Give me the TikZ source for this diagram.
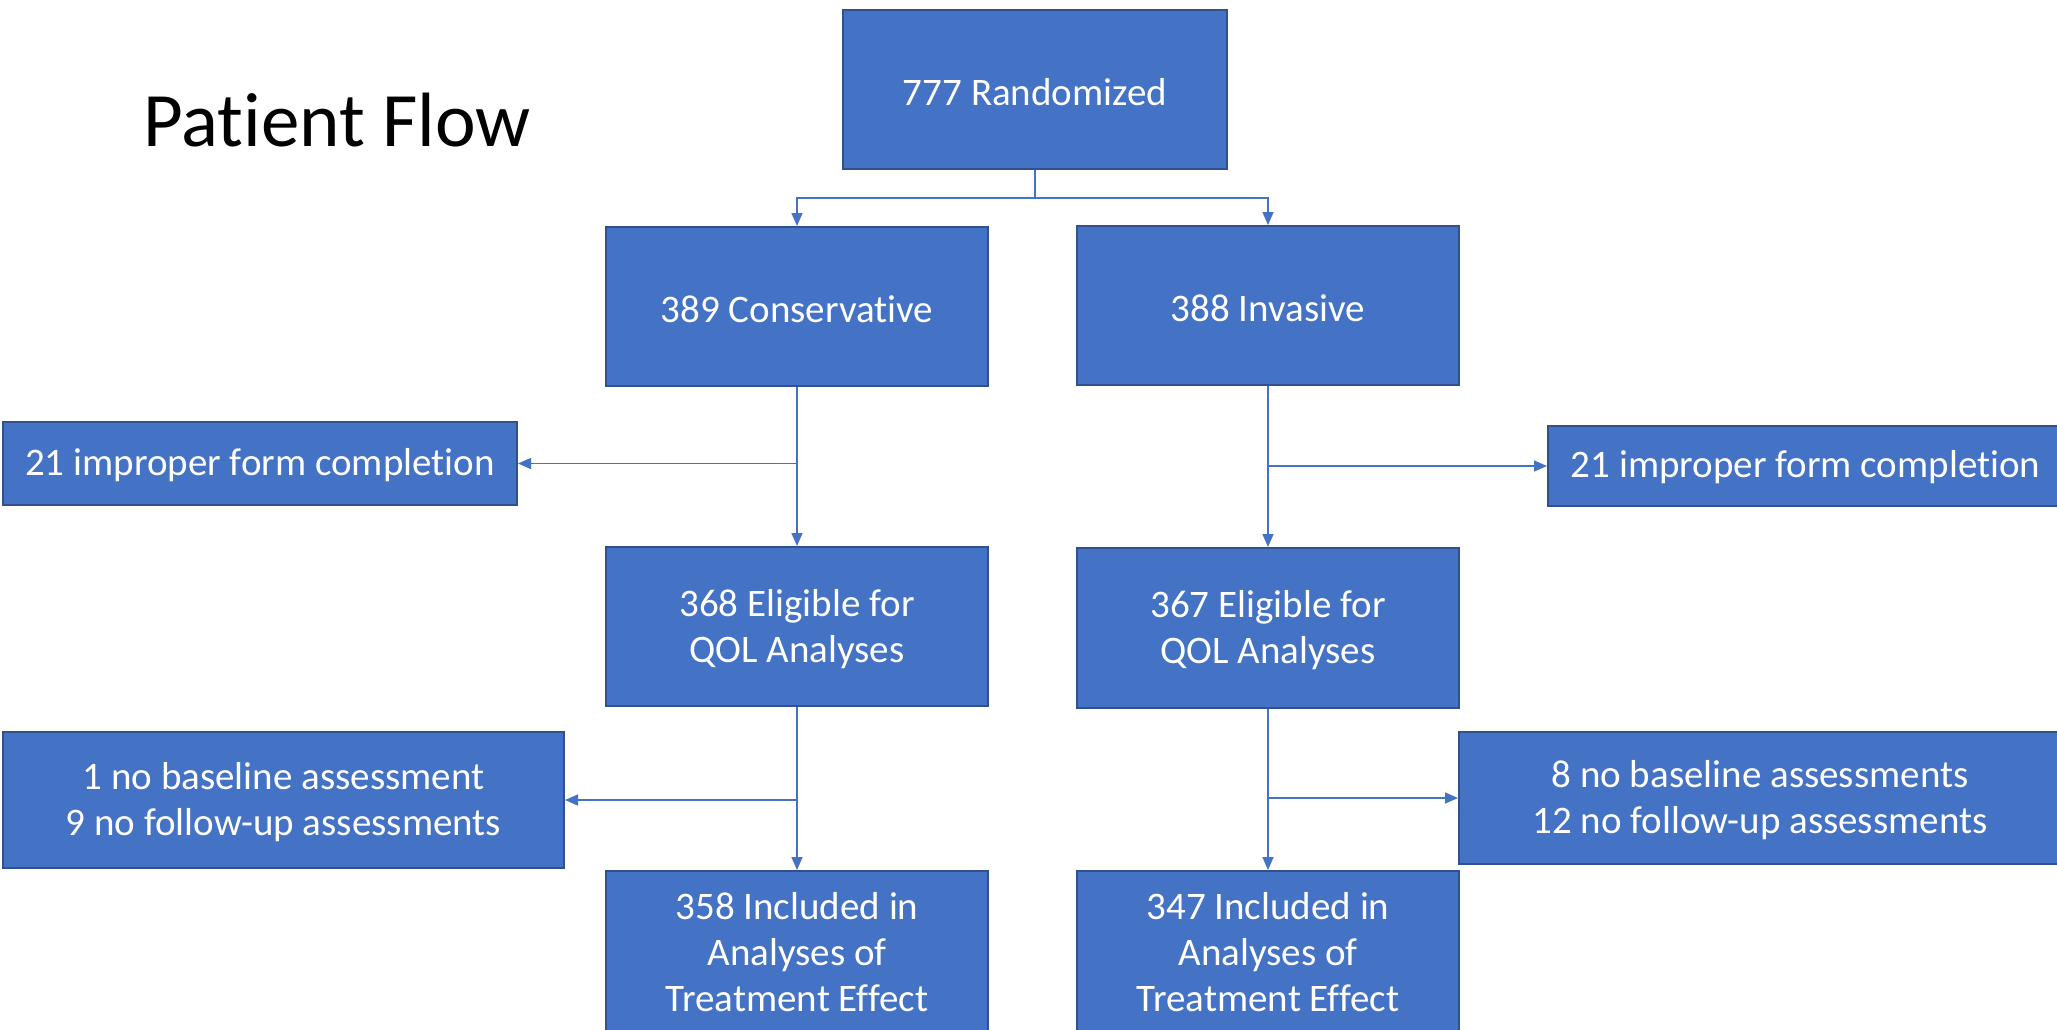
\documentclass[tikz,border=0pt]{standalone}
\usepackage{fontspec}
\setmainfont{Carlito}[Ligatures=NoCommon]
\usetikzlibrary{arrows.meta}
\definecolor{boxblue}{HTML}{4472C4}
\definecolor{boxborder}{HTML}{2F528F}
\definecolor{connblue}{HTML}{4472C4}
\tikzset{
  box/.style={draw=boxborder, fill=boxblue, line width=1pt, text=white,
    font=\fontsize{19.5}{23}\selectfont, align=center, inner sep=0pt},
  conn/.style={draw=connblue, line width=0.75pt, -{Triangle[width=5.5pt,length=6.5pt]}},
  plain/.style={draw=connblue, line width=0.75pt}
}
\begin{document}
\begin{tikzpicture}[x=0.5pt,y=-0.5pt]
\useasboundingbox (0,0) rectangle (2057,1029);
\clip (0,0) rectangle (2057,1029);
\fill[white] (0,0) rectangle (2057,1029);

\node[anchor=base west, inner sep=0pt, font=\fontsize{38.5}{44}\selectfont] (title) at (143,146) {Patient Flow};

\node[box, minimum width=192pt, minimum height=79.5pt] (top) at (1035,89.5) {\rule{0pt}{16pt}777 Randomized};
\node[box, minimum width=191pt, minimum height=79.5pt] (cons) at (797,306.5) {\rule{0pt}{16pt}389 Conservative};
\node[box, minimum width=191pt, minimum height=79.5pt] (inv) at (1268,305.5) {\rule{0pt}{16pt}388 Invasive};
\node[box, minimum width=257pt, minimum height=41.5pt] (exclL1) at (260,463.5) {\rule{0pt}{15pt}21 improper form completion};
\node[box, minimum width=257.5pt, minimum height=40pt] (exclR1) at (1805.5,466) {\rule{0pt}{15pt}21 improper form completion};
\node[box, minimum width=191pt, minimum height=79.5pt] (elig368) at (797,626.5) {\rule{0pt}{16pt}368 Eligible for\\QOL Analyses};
\node[box, minimum width=191pt, minimum height=80pt] (elig367) at (1268,628) {\rule{0pt}{16pt}367 Eligible for\\QOL Analyses};
\node[box, minimum width=280.5pt, minimum height=68pt] (exclL2) at (283.5,800) {\rule{0pt}{16pt}1 no baseline assessment\\9 no follow-up assessments};
\node[box, minimum width=301pt, minimum height=66pt] (exclR2) at (1760,798) {\rule{0pt}{16pt}8 no baseline assessments\\12 no follow-up assessments};
\node[box, anchor=north] (incl358) at (797,870) {\parbox[c][100pt][t]{191pt}{\centering\fontsize{19.5}{23}\selectfont\rule{0pt}{24pt}358 Included in\\Analyses of\\Treatment Effect}};
\node[box, anchor=north] (incl347) at (1268,870) {\parbox[c][100pt][t]{191pt}{\centering\fontsize{19.5}{23}\selectfont\rule{0pt}{24pt}347 Included in\\Analyses of\\Treatment Effect}};

\coordinate (b1) at (1035,198);
\draw[plain] (top.south) -- (b1);
\draw[conn] (b1) -| (cons.north);
\draw[conn] (b1) -| (inv.north);

\coordinate (f1) at (797,463.5);
\draw[conn] (cons.south) |- (exclL1.east);
\draw[conn] (f1) -- (elig368.north);

\coordinate (f2) at (1268,466);
\draw[conn] (inv.south) |- (exclR1.west);
\draw[conn] (f2) -- (elig367.north);

\coordinate (f3) at (797,800);
\draw[conn] (elig368.south) |- (exclL2.east);
\draw[conn] (f3) -- (incl358.north);

\coordinate (f4) at (1268,798);
\draw[conn] (elig367.south) |- (exclR2.west);
\draw[conn] (f4) -- (incl347.north);
\end{tikzpicture}
\end{document}
